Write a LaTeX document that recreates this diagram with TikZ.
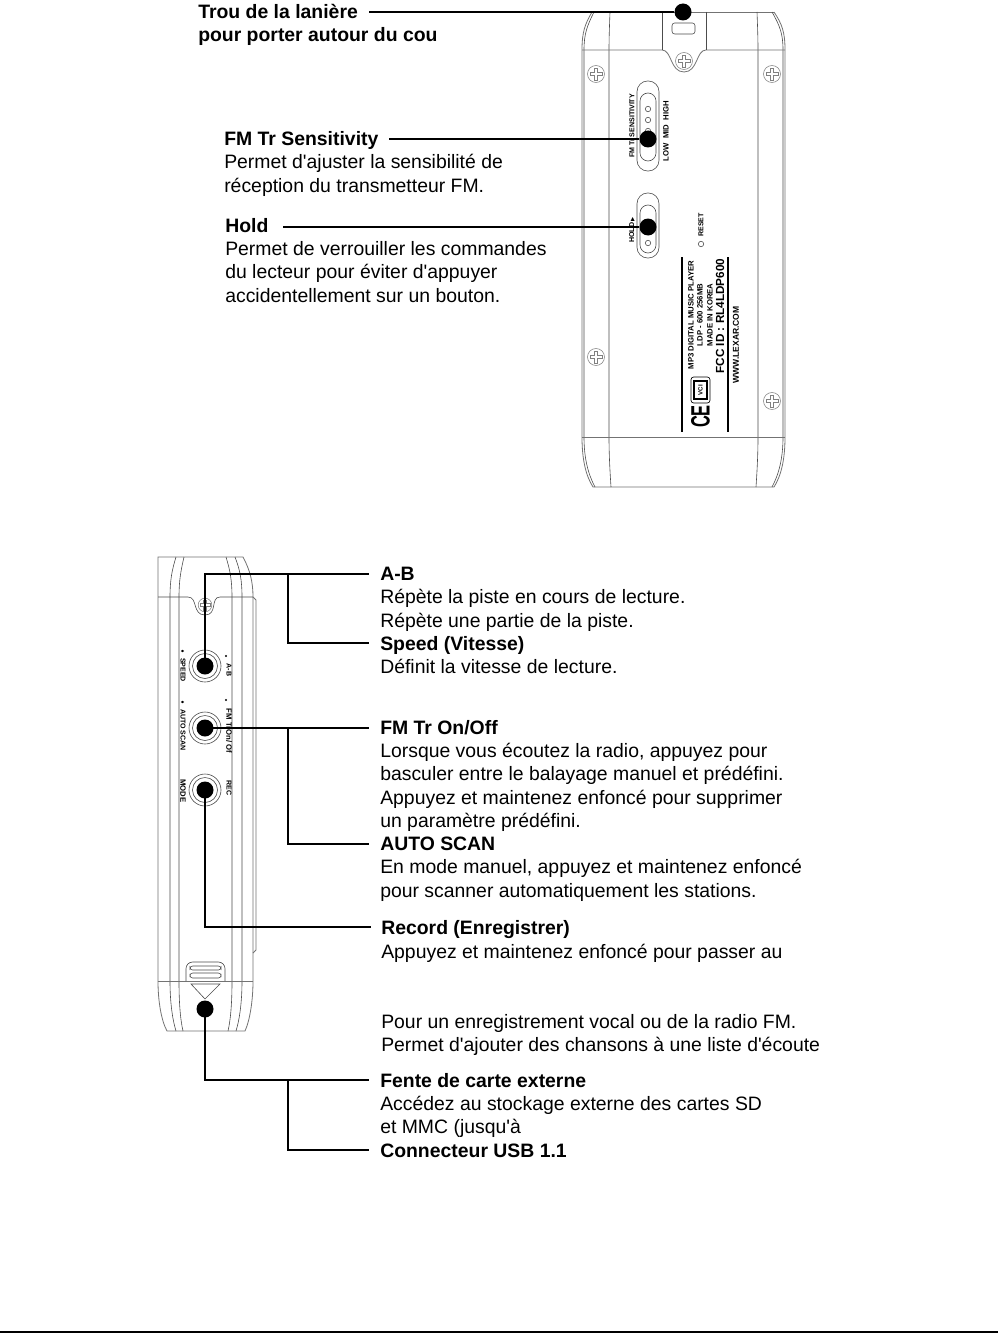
\documentclass[tikz,border=0pt]{standalone}
\usepackage{graphicx}
\usepackage{fontspec}
\setmainfont{Liberation Sans}
\newfontfamily\symfont{DejaVu Sans}
\newcommand{\txtfont}{\fontsize{14.55}{16}\selectfont}
\newcommand{\apos}{\textquotesingle}
\tikzset{
  x=0.75pt,y=-0.75pt,
  dev/.style={draw=black!70,line width=0.45pt},
  devl/.style={draw=black!50,line width=0.4pt},
  devo/.style={draw=black!55,line width=0.6pt},
  conn/.style={draw=black,line width=1.35pt},
  blackdot/.style={circle,fill=black,inner sep=0pt,minimum size=12.75pt},
  lab/.style={anchor=base west,inner sep=0pt,font=\txtfont},
  head/.style={lab,font=\txtfont\bfseries},
  small/.style={inner sep=0pt,font=\fontsize{5.3}{6}\selectfont\bfseries},
  smallb/.style={inner sep=0pt,font=\fontsize{5.8}{6}\selectfont\bfseries},
  screwmark/.pic={
    \draw[devl] (0,0) circle[radius=8.5];
    \draw[devl] (-1.7,-6)--(1.7,-6)--(1.7,-1.7)--(6,-1.7)--(6,1.7)--(1.7,1.7)--(1.7,6)--(-1.7,6)--(-1.7,1.7)--(-6,1.7)--(-6,-1.7)--(-1.7,-1.7)--cycle;
  }
}
\begin{document}
\begin{tikzpicture}
\useasboundingbox (0,0) rectangle (998,1334);
\fill[white] (0,0) rectangle (998,1334);
% ---------- upper device
\draw[devo] (592,12)--(774,12);
\draw[devo] (582,437)--(582,50) .. controls (582,32) and (585,24) .. (592,12);
\draw[dev] (584,437)--(584,50) .. controls (584,34) and (587,26) .. (594,12);
\draw[devo] (785,437)--(785,50) .. controls (785,32) and (782,24) .. (774,12);
\draw[dev] (783,437)--(783,50) .. controls (783,34) and (780,26) .. (772,12);
\draw[devo] (582,437) .. controls (582,460) and (586,476) .. (593,487)--(774,487) .. controls (781,476) and (785,460) .. (785,437);
\draw[dev] (584,437) .. controls (584,458) and (588,474) .. (595,487);
\draw[dev] (783,437) .. controls (783,458) and (779,474) .. (772,487);
\draw[dev] (610,12) .. controls (609.5,25) and (609,38) .. (609,50)--(609,437) .. controls (609,455) and (610,472) .. (611,487);
\draw[dev] (757,12) .. controls (757.5,25) and (758,38) .. (758,50)--(758,437) .. controls (758,455) and (757,472) .. (756,487);
\draw[devo] (582,437)--(785,437);
\draw[devo] (582,50)--(662,50) .. controls (672,50) and (670,72) .. (684,72) .. controls (698,72) and (696,50) .. (706,50)--(785,50);
\draw[dev] (662,12)--(662,50) (706,12)--(706,50);
\draw[dev,rounded corners=2pt] (672,23) rectangle (695,34);
\path (684,61) pic {screwmark};
\path (596,74) pic {screwmark};
\path (772,74) pic {screwmark};
\path (596,357) pic {screwmark};
\path (772,401) pic {screwmark};
% sliders
\draw[dev,rounded corners=8pt] (637,81) rectangle (659,171);
\draw[dev,rounded corners=6pt] (640,93) rectangle (656,161);
\draw[dev] (648,109) circle[radius=2.7] (648,120) circle[radius=2.7] (648,131) circle[radius=2.7];
\draw[dev,rounded corners=8pt] (637,193) rectangle (659,258);
\draw[dev,rounded corners=6pt] (640,205) rectangle (656,253);
\draw[dev] (648,243) circle[radius=2.7];
\draw[dev] (701,244) circle[radius=2.7];
\node[small,rotate=90] (fmsens) at (632,126) {FM Tr SENSITIVITY};
\node[smallb,rotate=90] (lowhigh) at (666,131) {LOW\ \ MID\ \ HIGH};
\node[small,rotate=90] (holdtxt) at (632,230) {HOLD\,{\symfont\fontsize{4}{4}\selectfont ▶}};
\node[small,rotate=90] (resettxt) at (701,225) {RESET};
% product label
\draw[line width=0.9pt] (682,257)--(682,432) (728,257)--(728,432);
\node[smallb,rotate=90] (lab1) at (691,315) {MP3 DIGITAL MUSIC PLAYER};
\node[smallb,rotate=90] (lab2) at (700,315) {LDP - 600 256MB};
\node[smallb,rotate=90] (lab3) at (710,315) {MADE IN KOREA};
\node[inner sep=0pt,rotate=90,font=\fontsize{8.8}{9}\selectfont\bfseries] (lab4) at (720,316) {FCC ID : RL4LDP600};
\node[inner sep=0pt,rotate=90,font=\fontsize{6.4}{7}\selectfont\bfseries] (lab5) at (736,345) {WWW.LEXAR.COM};
\draw[line width=0.5pt,rounded corners=2pt] (691,377) rectangle (710,403);
\draw[line width=0.8pt] (694,381) rectangle (707,399);
\node[inner sep=0pt,rotate=90,font=\fontsize{4.6}{5}\selectfont\bfseries] (vci) at (700.5,390) {VCI};
\node[inner sep=0pt,rotate=90,font=\fontsize{19.9}{20}\selectfont\bfseries] (ce) at (700.5,416.5) {\scalebox{0.62}[1]{CE}};
% ---------- lower device
\draw[devo] (158,981)--(158,557)--(243,557) .. controls (250,570) and (253,582) .. (253,597)--(253,981);
\draw[dev] (158,597)--(188,597) .. controls (198,597) and (192,615) .. (205,615) .. controls (218,615) and (210,597) .. (220,597)--(253,597);
\draw[devo] (253,597)--(256,600)--(256,950)--(253,953);
\draw[dev] (170,981)--(170,597) .. controls (170,580) and (172,570) .. (176,557);
\draw[dev] (179,981)--(179,597) .. controls (179,580) and (181,570) .. (184,557);
\draw[dev] (232,981)--(232,597) .. controls (232,580) and (230,570) .. (226,557);
\draw[dev] (242,981)--(242,597) .. controls (242,580) and (240,570) .. (235,557);
\draw[devo] (158,981) .. controls (158,1000) and (161,1020) .. (167,1031)--(245,1031) .. controls (250,1020) and (253,1000) .. (253,981);
\draw[dev] (170,981) .. controls (170,1000) and (172,1018) .. (176,1031);
\draw[dev] (179,981) .. controls (179,1000) and (180,1018) .. (183,1031);
\draw[dev] (232,981) .. controls (232,1000) and (231,1018) .. (228,1031);
\draw[dev] (242,981) .. controls (242,1000) and (240,1018) .. (236,1031);
\draw[devo] (158,981)--(253,981);
\path (205,605) pic[scale=0.8] {screwmark};
\foreach \yy in {666,728,790}{
  \draw[dev] (205,\yy) circle[radius=16];
  \draw[dev] (205,\yy) circle[radius=12.5];
}
\node[small,rotate=-90] (tab) at (229,670) {A-B};
\node[small,rotate=-90] (tspeed) at (183,670) {SPEED};
\node[inner sep=0pt,rotate=-90,font=\fontsize{5.8}{6}\selectfont\bfseries] (tfm) at (229,731) {FM TrOn/ Of};
\node[small,rotate=-90] (tauto) at (183,730) {AUTO SCAN};
\node[smallb,rotate=-90] (tmode) at (183,791) {MODE};
\node[small,rotate=-90] (trec) at (229,788) {REC};
\fill (226,656) circle[radius=1.1];
\fill (226,700) circle[radius=1.1];
\fill (182.5,651) ellipse[x radius=1.6,y radius=1.2];
\fill (182.5,702) ellipse[x radius=1.6,y radius=1.2];
% latch
\draw[dev,rounded corners=5pt] (186,981)--(186,962)--(225,962)--(225,981);
\draw[dev,rounded corners=2pt] (190,966) rectangle (221,970);
\draw[dev,rounded corners=2pt] (190,973) rectangle (221,978);
\draw[dev] (191,984)--(220,984)--(205,999)--cycle;
% ---------- dots
\node[blackdot] (d1) at (683,12) {};
\node[blackdot] (d2) at (648,139) {};
\node[blackdot] (d3) at (648,227) {};
\node[blackdot] (d4) at (205,666) {};
\node[blackdot] (d5) at (205,728) {};
\node[blackdot] (d6) at (205,790) {};
\node[blackdot] (d7) at (205,1009) {};
% ---------- label texts
\node[head] (t1) at (198,19) {Trou de la lanière};
\node[head] (t1b) at (198,42) {pour porter autour du cou};
\node[head] (t2) at (224,146) {FM Tr Sensitivity};
\node[lab] at (224,169) (t2b) {Permet d\apos ajuster la sensibilité de};
\node[lab] at (224,192) (t2c) {réception du transmetteur FM.};
\node[head] (t3) at (225,232) {Hold};
\node[lab] at (225,255) (t3b) {Permet de verrouiller les commandes};
\node[lab] at (225,278) (t3c) {du lecteur pour éviter d\apos appuyer};
\node[lab] at (225,302) (t3d) {accidentellement sur un bouton.};
\node[head] (t4) at (380,580) {A-B};
\node[lab] at (380,603) (t4b) {Répète la piste en cours de lecture.};
\node[lab] at (380,627) (t4c) {Répète une partie de la piste.};
\node[head] (t5) at (380,650) {Speed (Vitesse)};
\node[lab] at (380,673) (t5b) {Définit la vitesse de lecture.};
\node[head] (t6) at (380,734) {FM Tr On/Off};
\node[lab] at (380,757) (t6b) {Lorsque vous écoutez la radio, appuyez pour};
\node[lab] at (380,780) (t6c) {basculer entre le balayage manuel et prédéfini.};
\node[lab] at (380,804) (t6d) {Appuyez et maintenez enfoncé pour supprimer};
\node[lab] at (380,827) (t6e) {un paramètre prédéfini.};
\node[head] (t7) at (380,850) {AUTO SCAN};
\node[lab] at (380,873) (t7b) {En mode manuel, appuyez et maintenez enfoncé};
\node[lab] at (380,897) (t7c) {pour scanner automatiquement les stations.};
\node[head] (t8) at (381,934) {Record (Enregistrer)};
\node[lab] at (381,958) (t8b) {Appuyez et maintenez enfoncé pour passer au};
\node[lab] at (381,1028) (t8c) {Pour un enregistrement vocal ou de la radio FM.};
\node[lab] at (381,1051) (t8d) {Permet d\apos ajouter des chansons à une liste d\apos écoute};
\node[head] (t9) at (380,1087) {Fente de carte externe};
\node[lab] at (380,1110) (t9b) {Accédez au stockage externe des cartes SD};
\node[lab] at (380,1133) (t9c) {et MMC (jusqu\apos à};
\node[head] (t10) at (380,1157) {Connecteur USB 1.1};
% ---------- connector ends
\coordinate (e1) at (369,12);
\coordinate (e2) at (389,139);
\coordinate (e3) at (283,227);
\coordinate (e4) at (369,574);
\coordinate (e5) at (369,643);
\coordinate (e6) at (369,728);
\coordinate (e7) at (369,844);
\coordinate (e8) at (371,927);
\coordinate (e9) at (369,1080);
\coordinate (e10) at (369,1150);
\coordinate (j4) at (288,574);
\coordinate (j6) at (288,728);
\coordinate (j9) at (288,1080);
% ---------- connectors
\draw[conn] (e1)--(d1);
\draw[conn] (e2)--(d2);
\draw[conn] (e3)--(d3);
\draw[conn] (d4.center)--(205,574)--(e4);
\draw[conn] (j4)--(288,643)--(e5);
\draw[conn] (d5.center)--(e6);
\draw[conn] (j6)--(288,844)--(e7);
\draw[conn] (d6.center)--(205,927)--(e8);
\draw[conn] (d7.center)--(205,1080)--(e9);
\draw[conn] (j9)--(288,1150)--(e10);
% bottom rule
\coordinate (r1) at (0,1332);
\coordinate (r2) at (998,1332);
\draw[line width=0.8pt] (r1)--(r2);
\end{tikzpicture}
\end{document}
